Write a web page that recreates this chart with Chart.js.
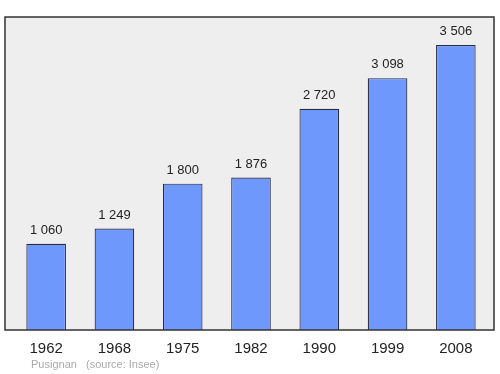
<!DOCTYPE html>
<html>
<head>
<meta charset="utf-8">
<script src="https://cdn.jsdelivr.net/npm/chart.js@4"></script>
<style>
  body { margin: 0; background: #fff; }
  #wrap { width: 500px; height: 374px; position: relative; }
</style>
</head>
<body>
<div id="wrap"><canvas id="popChart" width="500" height="374"></canvas></div>
<script>
// census years and population
const years = ['1962', '1968', '1975', '1982', '1990', '1999', '2008'];
const population = [1060, 1249, 1800, 1876, 2720, 3098, 3506];
const valueLabels = ['1 060', '1 249', '1 800', '1 876', '2 720', '3 098', '3 506'];

// draws the grey box behind the bars and its frame
const framePlugin = {
    id: 'frame',
    beforeDatasetsDraw(chart) {
        const c = chart.ctx;
        const a = chart.chartArea;
        c.save();
        c.fillStyle = '#eeeeee';
        c.fillRect(5, a.top, 489, a.bottom - a.top);
        c.restore();
    },
    afterDatasetsDraw(chart) {
        const c = chart.ctx;
        const a = chart.chartArea;
        c.save();
        c.strokeStyle = '#333333';
        c.lineWidth = 1.5;
        c.strokeRect(5, a.top, 489, a.bottom - a.top);

        // value above each bar
        c.fillStyle = '#222';
        c.font = '13px "Liberation Sans", Arial, sans-serif';
        c.textAlign = 'center';
        c.textBaseline = 'bottom';
        chart.getDatasetMeta(0).data.forEach((bar, i) => {
            c.fillText(valueLabels[i], bar.x, bar.y - 7);
        });

        // footer
        c.fillStyle = '#aaaaaa';
        c.font = '11px "Liberation Sans", Arial, sans-serif';
        c.textAlign = 'left';
        c.textBaseline = 'middle';
        c.fillText('Pusignan', 31, 365);
        c.fillText('(source: Insee)', 86, 365);
        c.restore();
    }
};

const ctx = document.getElementById('popChart').getContext('2d');
const myChart = new Chart(ctx, {
    type: 'bar',
    data: {
        labels: years,
        datasets: [{
            data: population,
            backgroundColor: '#6f98fd',
            borderColor: '#2b2b40',
            borderWidth: 1.2,
            barPercentage: 0.58,
            categoryPercentage: 1
        }]
    },
    options: {
        responsive: false,
        animation: false,
        layout: {
            padding: { left: 12, right: 10, top: 17, bottom: 14 }
        },
        plugins: {
            legend: { display: false },
            tooltip: { enabled: false }
        },
        scales: {
            x: {
                grid: { display: false },
                border: { display: false },
                ticks: {
                    color: '#222',
                    padding: 2,
                    font: { size: 15, family: '"Liberation Sans", Arial, sans-serif' }
                }
            },
            y: {
                display: false,
                min: 0,
                max: 3850
            }
        }
    },
    plugins: [framePlugin]
});
</script>
</body>
</html>
